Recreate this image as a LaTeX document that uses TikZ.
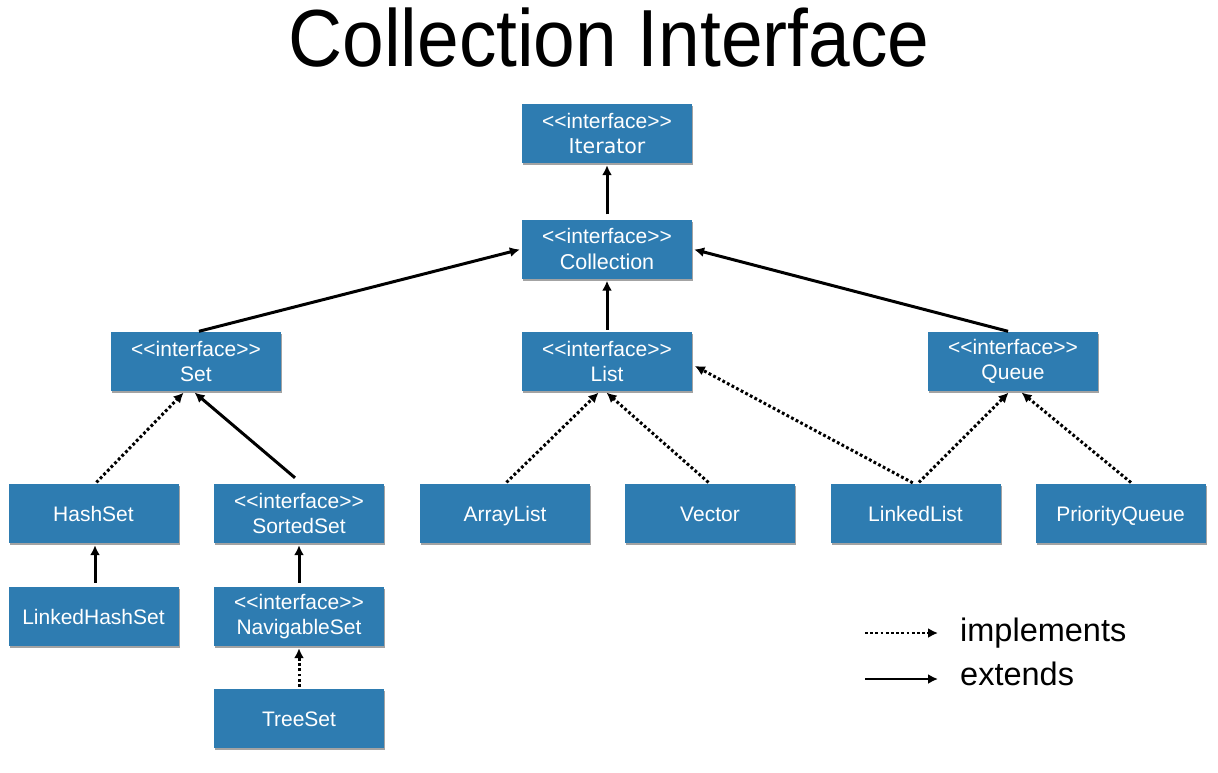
\documentclass[tikz,border=0pt]{standalone}
\usepackage{fontspec}
\setmainfont{Liberation Sans}[Ligatures=TeXOff]
\newfontfamily\verd{DejaVu Sans}
\usetikzlibrary{arrows.meta,shadows}
\definecolor{boxblue}{RGB}{46,124,177}
\newcommand\intf{<\kern0pt<interface>\kern0pt>}
\tikzset{
  cls/.style={fill=boxblue, text=white, minimum width=170pt, minimum height=59pt,
    inner sep=0pt, align=center, font=\fontsize{21}{25.5}\selectfont,
    drop shadow={shadow xshift=1.2pt, shadow yshift=-2pt, fill=black!40, opacity=0.9}},
  one/.style={text height=17pt, text depth=1pt},
  two/.style={yshift=-2pt},
  ext/.style={draw=black, line width=3pt, -{Latex[length=10pt,width=10pt]}},
  impl/.style={draw=black, line width=3pt, dash pattern=on 2.8pt off 2.4pt, -{Latex[length=10pt,width=10pt]}},
  lbl/.style={anchor=west, inner sep=0pt, font=\fontsize{32.5}{36}\selectfont},
}
\begin{document}
\begin{tikzpicture}[x=1pt,y=-1pt]
\useasboundingbox (0,0) rectangle (1218,772);
\node[anchor=base, inner sep=0pt, font=\fontsize{81}{90}\selectfont] (title) at (609,66) {\scalebox{0.925}[1]{Collection Interface}};

\node[cls] (iter) at (607,133.5) {\intf\\{\verd\fontsize{20.5}{25}\selectfont Iterator}};
\node[cls] (coll) at (607,249) {\intf\\{\fontsize{21.5}{25}\selectfont Collection}};
\node[cls] (set) at (196,361.5) {\intf\\Set};
\node[cls] (list) at (607,361.5) {\intf\\List};
\node[cls] (queue) at (1013,361.5) {\intf\\Queue};
\node[cls,one] (hashset) at (93.5,513.5) {HashSet};
\node[cls] (sortedset) at (299,513.5) {\intf\\SortedSet};
\node[cls,one] (arraylist) at (505,513.5) {ArrayList};
\node[cls,one] (vector) at (710,513.5) {Vector};
\node[cls,one] (linkedlist) at (915.5,513.5) {LinkedList};
\node[cls,one] (pq) at (1120.5,513.5) {PriorityQueue};
\node[cls,one] (lhs) at (93.5,616.5) {LinkedHashSet};
\node[cls] (nav) at (299,616.5) {\intf\\NavigableSet};
\node[cls,one] (tree) at (299,718.5) {TreeSet};

\draw[ext, shorten >=2pt] ([yshift=5pt]coll.north) -- (iter.south);
\draw[ext, shorten <=2pt, shorten >=2pt] ([xshift=1pt]set.north) -- (coll.west);
\draw[ext, shorten <=2pt, shorten >=2pt] ([xshift=-3pt]queue.north) -- (coll.east);
\draw[ext, shorten <=2pt, shorten >=2pt] (list.north) -- (coll.south);
\draw[impl, shorten <=2pt, shorten >=2pt] ([xshift=1.5pt]hashset.north) -- ([xshift=-11pt]set.south);
\draw[ext, shorten >=2pt] ([xshift=-4pt,yshift=6pt]sortedset.north) -- ([xshift=-3pt]set.south);
\draw[impl, shorten <=2pt, shorten >=2pt] (arraylist.north) -- ([xshift=-7pt]list.south);
\draw[impl, shorten <=2pt, shorten >=2pt] (vector.north) -- ([xshift=-2pt]list.south);
\draw[impl, shorten <=2pt, shorten >=3pt] ([xshift=-1pt]linkedlist.north) -- ([yshift=-3pt]list.east);
\draw[impl, shorten <=2pt, shorten >=2pt] ([xshift=2pt]linkedlist.north) -- ([xshift=-3pt]queue.south);
\draw[impl, shorten <=2pt, shorten >=2pt] ([xshift=12pt]pq.north) -- ([xshift=7pt]queue.south);
\draw[ext, shorten <=4pt, shorten >=2pt] ([xshift=1.5pt]lhs.north) -- ([xshift=1.5pt]hashset.south);
\draw[ext, shorten <=4pt, shorten >=2pt] (nav.north) -- (sortedset.south);
\draw[impl, shorten <=2pt, shorten >=2pt] (tree.north) -- (nav.south);

\coordinate (i1) at (865,633);
\coordinate (i2) at (938,633);
\coordinate (e1) at (865,679);
\coordinate (e2) at (938,679);
\draw[impl, line width=2.4pt] (i1) -- (i2);
\draw[ext, line width=2.4pt] (e1) -- (e2);
\node[lbl] (limpl) at (960,633) {implements};
\node[lbl] (lext) at (960,674) {extends};
\end{tikzpicture}
\end{document}
